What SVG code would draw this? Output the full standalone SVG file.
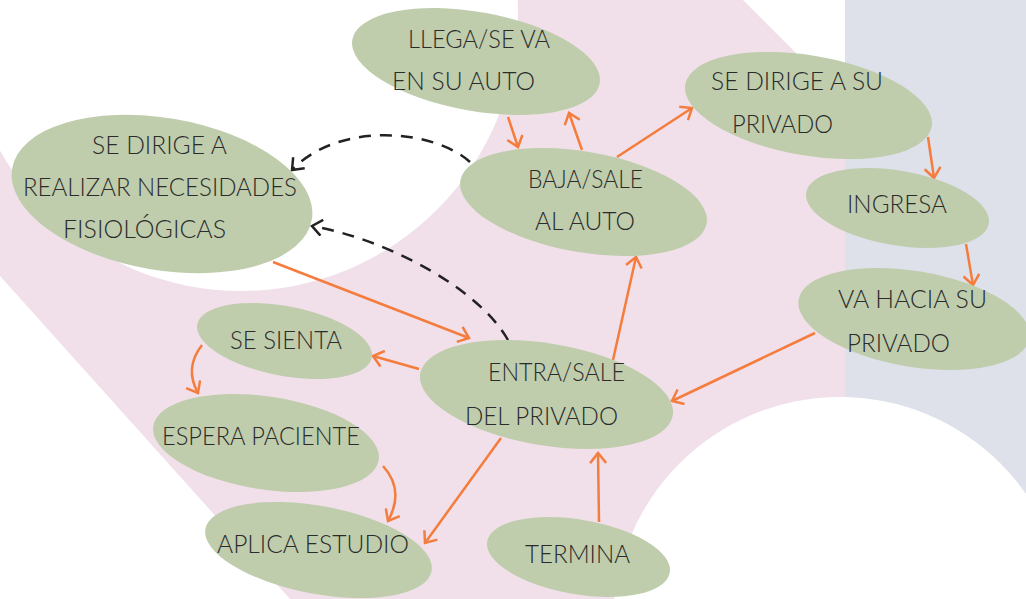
<svg xmlns="http://www.w3.org/2000/svg" width="1026" height="599" viewBox="0 0 1026 599">
<defs>
<style>
.node ellipse{fill:#bfcdad;}
.node text{font-family:Lato,"Open Sans","Liberation Sans",sans-serif;font-weight:300;font-size:26px;fill:#2b2b2b;}
.arr{fill:none;stroke:#f47d3d;stroke-width:2.5;marker-end:url(#ao);}
.dash{fill:none;stroke:#222;stroke-width:2.5;stroke-dasharray:12 9;marker-end:url(#ab);}
</style>
<marker id="ao" viewBox="-13 -9 15 18" markerWidth="15" markerHeight="18" refX="0" refY="0" orient="auto" markerUnits="userSpaceOnUse">
<path d="M-10,-8 L0,0 L-10,8" fill="none" stroke="#f47d3d" stroke-width="2.5"/>
</marker>
<marker id="ab" viewBox="-13 -9 15 18" markerWidth="15" markerHeight="18" refX="0" refY="0" orient="auto" markerUnits="userSpaceOnUse">
<path d="M-10,-8 L0,0 L-10,8" fill="none" stroke="#222" stroke-width="2.5"/>
</marker>
</defs>
<g id="background">
<rect x="0" y="0" width="1026" height="599" fill="#f1e0ea"/>
<rect x="845" y="0" width="181" height="599" fill="#dee0ea"/>
<circle cx="241" cy="14" r="277" fill="#fff"/>
<polygon points="743,0 845,0 845,102" fill="#fff"/>
<polygon points="0,276 290,599 0,599" fill="#fff"/>
<circle cx="840" cy="624" r="227" fill="#fff"/>
</g>
<g id="connectors">
<line class="arr" x1="508" y1="117" x2="518" y2="147"/>
<line class="arr" x1="582" y1="150" x2="569" y2="113"/>
<line class="arr" x1="617" y1="157" x2="692" y2="108"/>
<line class="arr" x1="928" y1="137" x2="934" y2="178"/>
<line class="arr" x1="966" y1="244" x2="973" y2="285"/>
<line class="arr" x1="815" y1="333" x2="672" y2="401"/>
<line class="arr" x1="599" y1="522" x2="598" y2="453"/>
<line class="arr" x1="613" y1="360" x2="636" y2="257"/>
<line class="arr" x1="273" y1="262" x2="469" y2="338"/>
<line class="arr" x1="419" y1="369" x2="373" y2="356"/>
<line class="arr" x1="501" y1="438" x2="425" y2="543"/>
<path class="arr" d="M202,345 Q184,368 198,393"/>
<path class="arr" d="M383,466 Q405,490 388,521"/>
<path class="dash" d="M470,162 C435,130 340,120 292,170"/>
<path class="dash" d="M508,340 C480,290 390,240 312,226"/>
</g>
<g id="node-necesidades" class="node">
<ellipse cx="162" cy="194" rx="152" ry="76" transform="rotate(9.7 162 194)"/>
<text x="92" y="154" textLength="135" lengthAdjust="spacingAndGlyphs">SE DIRIGE A</text>
<text x="23" y="196" textLength="274" lengthAdjust="spacingAndGlyphs">REALIZAR NECESIDADES</text>
<text x="63" y="238" textLength="163" lengthAdjust="spacingAndGlyphs">FISIOLÓGICAS</text>
</g>
<g id="node-llega" class="node">
<ellipse cx="476" cy="61.5" rx="125.6" ry="49.5" transform="rotate(10 476 61.5)"/>
<text x="408" y="48" textLength="142" lengthAdjust="spacingAndGlyphs">LLEGA/SE VA</text>
<text x="392" y="90" textLength="143" lengthAdjust="spacingAndGlyphs">EN SU AUTO</text>
</g>
<g id="node-dirige-privado" class="node">
<ellipse cx="808.5" cy="105.5" rx="125" ry="50" transform="rotate(9.7 808.5 105.5)"/>
<text x="711" y="90" textLength="172" lengthAdjust="spacingAndGlyphs">SE DIRIGE A SU</text>
<text x="732" y="133" textLength="101" lengthAdjust="spacingAndGlyphs">PRIVADO</text>
</g>
<g id="node-baja" class="node">
<ellipse cx="583.5" cy="202" rx="125" ry="50.3" transform="rotate(9.9 583.5 202)"/>
<text x="528" y="188" textLength="115" lengthAdjust="spacingAndGlyphs">BAJA/SALE</text>
<text x="535" y="230" textLength="100" lengthAdjust="spacingAndGlyphs">AL AUTO</text>
</g>
<g id="node-ingresa" class="node">
<ellipse cx="897.5" cy="208" rx="92.6" ry="37.4" transform="rotate(9.7 897.5 208)"/>
<text x="847" y="213" textLength="100" lengthAdjust="spacingAndGlyphs">INGRESA</text>
</g>
<g id="node-va-hacia" class="node">
<ellipse cx="914" cy="319" rx="117" ry="47.9" transform="rotate(9.5 914 319)"/>
<text x="838" y="308" textLength="149" lengthAdjust="spacingAndGlyphs">VA HACIA SU</text>
<text x="847" y="352" textLength="103" lengthAdjust="spacingAndGlyphs">PRIVADO</text>
</g>
<g id="node-entra" class="node">
<ellipse cx="546.5" cy="394.5" rx="128" ry="51" transform="rotate(9.4 546.5 394.5)"/>
<text x="488" y="381" textLength="137" lengthAdjust="spacingAndGlyphs">ENTRA/SALE</text>
<text x="465" y="425" textLength="153" lengthAdjust="spacingAndGlyphs">DEL PRIVADO</text>
</g>
<g id="node-termina" class="node">
<ellipse cx="578.5" cy="557" rx="92.6" ry="37.4" transform="rotate(9.7 578.5 557)"/>
<text x="525" y="563" textLength="105" lengthAdjust="spacingAndGlyphs">TERMINA</text>
</g>
<g id="node-sienta" class="node">
<ellipse cx="284.5" cy="341" rx="88.8" ry="34.8" transform="rotate(10.8 284.5 341)"/>
<text x="230" y="349" textLength="112" lengthAdjust="spacingAndGlyphs">SE SIENTA</text>
</g>
<g id="node-espera" class="node">
<ellipse cx="266" cy="443" rx="114" ry="46.5" transform="rotate(8.5 266 443)"/>
<text x="162" y="445" textLength="198" lengthAdjust="spacingAndGlyphs">ESPERA PACIENTE</text>
</g>
<g id="node-aplica" class="node">
<ellipse cx="318.5" cy="550" rx="115" ry="43.9" transform="rotate(10.6 318.5 550)"/>
<text x="217" y="553" textLength="192" lengthAdjust="spacingAndGlyphs">APLICA ESTUDIO</text>
</g>
</svg>
